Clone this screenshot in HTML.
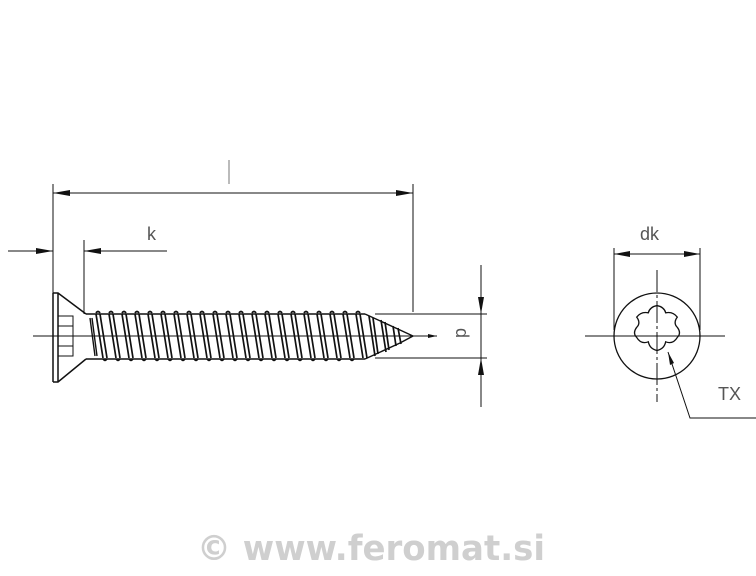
<!DOCTYPE html>
<html><head><meta charset="utf-8"><style>
html,body{margin:0;padding:0;background:#fff;width:756px;height:576px;overflow:hidden}
svg{display:block}
</style></head><body>
<svg width="756" height="576" viewBox="0 0 756 576" xmlns="http://www.w3.org/2000/svg" font-family="Liberation Sans, sans-serif">
<g stroke="#111" fill="none" stroke-width="1">
<line x1="53" y1="184" x2="53" y2="382"/>
<line x1="413" y1="184" x2="413" y2="312"/>
<line x1="53" y1="193" x2="413" y2="193"/>
<line x1="229" y1="160" x2="229" y2="184" stroke="#777"/>
<line x1="8" y1="251" x2="53" y2="251"/>
<line x1="84" y1="251" x2="167" y2="251"/>
<line x1="84" y1="240" x2="84" y2="314"/>
<line x1="33" y1="336" x2="437" y2="336"/>
<path d="M53,293 L53,382 M53,293 L58,293 L86,314 M53,382 L58,382 L86,359 M58,293 L58,382" stroke-width="1.5"/>
<rect x="58" y="316" width="15" height="40"/>
<line x1="58" y1="326" x2="73" y2="326"/><line x1="58" y1="346" x2="73" y2="346"/>
<path d="M86,314 L365,314 M86,359 L365,359" stroke-width="1.4"/>
<path d="M90,318 L95,356 M92,318 L97,356" stroke-width="1.4"/>
<path stroke-width="1.7" d="
M96,314 L103,358 M100,314 L107,358
M109,314 L116,358 M113,314 L120,358
M122,314 L129,358 M126,314 L133,358
M135,314 L142,358 M139,314 L146,358
M148,314 L155,358 M152,314 L159,358
M161,314 L168,358 M165,314 L172,358
M174,314 L181,358 M178,314 L185,358
M187,314 L194,358 M191,314 L198,358
M200,314 L207,358 M204,314 L211,358
M213,314 L220,358 M217,314 L224,358
M226,314 L233,358 M230,314 L237,358
M239,314 L246,358 M243,314 L250,358
M252,314 L259,358 M256,314 L263,358
M265,314 L272,358 M269,314 L276,358
M278,314 L285,358 M282,314 L289,358
M291,314 L298,358 M295,314 L302,358
M304,314 L311,358 M308,314 L315,358
M317,314 L324,358 M321,314 L328,358
M330,314 L337,358 M334,314 L341,358
M343,314 L350,358 M347,314 L354,358
M356,314 L363,358 M360,314 L367,358
M369,316 L375,356 M373,318 L378,354
M381,320 L386,352 M385,322 L389,350
M393,326 L396,346 M398,328 L401,344"/>
<path d="M96,313 q2,-3 4,0 M109,313 q2,-3 4,0 M122,313 q2,-3 4,0 M135,313 q2,-3 4,0 M148,313 q2,-3 4,0 M161,313 q2,-3 4,0 M174,313 q2,-3 4,0 M187,313 q2,-3 4,0 M200,313 q2,-3 4,0 M213,313 q2,-3 4,0 M226,313 q2,-3 4,0 M239,313 q2,-3 4,0 M252,313 q2,-3 4,0 M265,313 q2,-3 4,0 M278,313 q2,-3 4,0 M291,313 q2,-3 4,0 M304,313 q2,-3 4,0 M317,313 q2,-3 4,0 M330,313 q2,-3 4,0 M343,313 q2,-3 4,0 M356,313 q2,-3 4,0" stroke-width="1.7"/>
<path d="M103,359 q2,3 4,0 M116,359 q2,3 4,0 M129,359 q2,3 4,0 M142,359 q2,3 4,0 M155,359 q2,3 4,0 M168,359 q2,3 4,0 M181,359 q2,3 4,0 M194,359 q2,3 4,0 M207,359 q2,3 4,0 M220,359 q2,3 4,0 M233,359 q2,3 4,0 M246,359 q2,3 4,0 M259,359 q2,3 4,0 M272,359 q2,3 4,0 M285,359 q2,3 4,0 M298,359 q2,3 4,0 M311,359 q2,3 4,0 M324,359 q2,3 4,0 M337,359 q2,3 4,0 M350,359 q2,3 4,0" stroke-width="1.5"/>
<path d="M365,314 L400,330 L413,336 L400,343 L365,359" stroke-width="1.4"/>
<line x1="375" y1="314" x2="487" y2="314"/>
<line x1="375" y1="358" x2="487" y2="358"/>
<line x1="481" y1="265" x2="481" y2="407"/>
<circle cx="657" cy="336" r="43" stroke-width="1.3"/>
<g transform="translate(657 336) scale(1.45) translate(-657 -336)">
<path d="M657,315 q5,1 6,5 q5,-1 8,3 q-3,4 0,7 q3,4 0,7 q-3,5 -8,3 q-1,5 -6,6 q-5,-1 -6,-6 q-5,2 -8,-3 q-3,-3 0,-7 q3,-3 0,-7 q3,-4 8,-3 q1,-4 6,-5 z" stroke-width="0.9"/>
</g>
<line x1="585" y1="336" x2="725" y2="336"/>
<line x1="657" y1="270" x2="657" y2="402" stroke-dasharray="22,3,3,3"/>
<line x1="614" y1="248" x2="614" y2="330"/>
<line x1="700" y1="248" x2="700" y2="330"/>
<line x1="614" y1="254" x2="700" y2="254"/>
<path d="M668,352 L690,418 L756,418"/>
</g>
<g fill="#111">
<path d="M53,193 L70,190 L70,196 Z"/>
<path d="M413,193 L396,190 L396,196 Z"/>
<path d="M53,251 L36,248 L36,254 Z"/>
<path d="M84,251 L101,248 L101,254 Z"/>
<path d="M437,336 L428,334 L428,338 Z"/>
<path d="M481,314 L478,297 L484,297 Z"/>
<path d="M481,358 L478,375 L484,375 Z"/>
<path d="M614,254 L630,251 L630,257 Z"/>
<path d="M700,254 L684,251 L684,257 Z"/>
<path d="M668,352 L670,365 L674,363 Z"/>
</g>
<g fill="#555" font-size="18">
<text x="147" y="240">k</text>
<text x="454" y="342" transform="rotate(90 462 336)">d</text>
<text x="640" y="240">dk</text>
<text x="718" y="400">TX</text>
</g>
<text x="371" y="560" text-anchor="middle" font-size="35" font-weight="bold" fill="#cfcfcf" font-family="DejaVu Sans, sans-serif" textLength="348" lengthAdjust="spacingAndGlyphs">© www.feromat.si</text>
</svg>
</body></html>
